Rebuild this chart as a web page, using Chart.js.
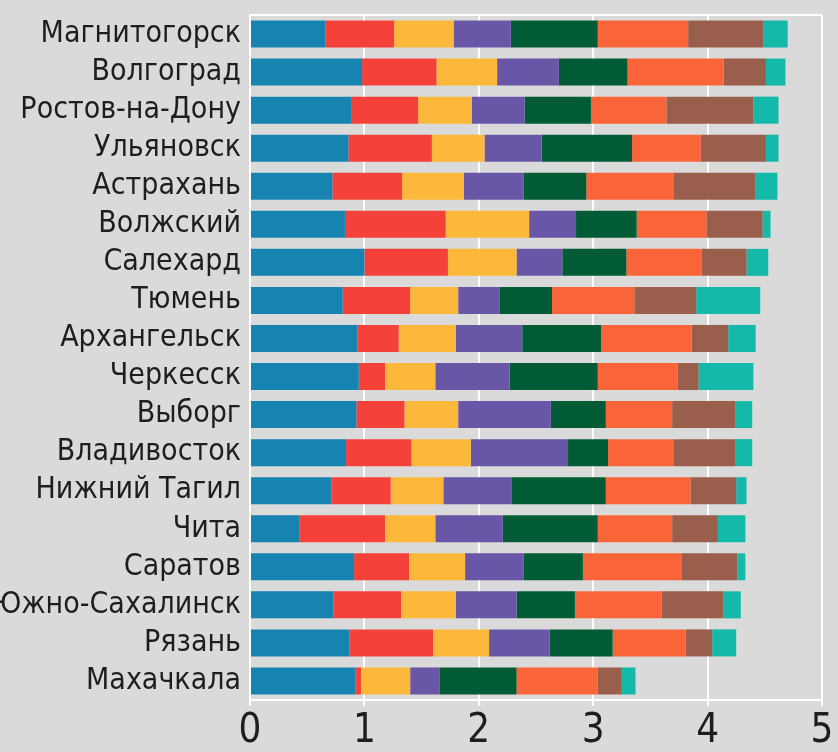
<!DOCTYPE html>
<html>
<head>
<meta charset="utf-8">
<script src="https://cdn.jsdelivr.net/npm/chart.js@4"></script>
<style>
  html, body { margin: 0; padding: 0; background: #dadada; }
  #wrap { width: 838px; height: 752px; }
</style>
</head>
<body>
<div id="wrap"><canvas id="chart"></canvas></div>
<script>
const cities = ['Магнитогорск', 'Волгоград', 'Ростов-на-Дону', 'Ульяновск', 'Астрахань', 'Волжский',
    'Салехард', 'Тюмень', 'Архангельск', 'Черкесск', 'Выборг', 'Владивосток', 'Нижний Тагил',
    'Чита', 'Саратов', 'Южно-Сахалинск', 'Рязань', 'Махачкала'];

const blue   = [0.66, 0.98, 0.89, 0.86, 0.72, 0.83, 1.00, 0.81, 0.94, 0.95, 0.93, 0.84, 0.71, 0.43, 0.91, 0.73, 0.87, 0.92];
const red    = [0.60, 0.65, 0.58, 0.73, 0.61, 0.88, 0.73, 0.59, 0.36, 0.23, 0.42, 0.57, 0.52, 0.75, 0.48, 0.59, 0.73, 0.05];
const yellow = [0.52, 0.53, 0.47, 0.46, 0.54, 0.73, 0.60, 0.42, 0.50, 0.44, 0.47, 0.52, 0.46, 0.44, 0.49, 0.48, 0.49, 0.43];
const purple = [0.50, 0.54, 0.46, 0.50, 0.52, 0.41, 0.40, 0.36, 0.58, 0.65, 0.81, 0.85, 0.60, 0.59, 0.51, 0.53, 0.53, 0.26];
const green  = [0.76, 0.60, 0.58, 0.79, 0.55, 0.53, 0.56, 0.46, 0.69, 0.77, 0.48, 0.35, 0.82, 0.83, 0.52, 0.51, 0.55, 0.67];
const orange = [0.79, 0.84, 0.66, 0.60, 0.76, 0.61, 0.66, 0.72, 0.79, 0.70, 0.58, 0.57, 0.74, 0.65, 0.86, 0.76, 0.64, 0.71];
const brown  = [0.66, 0.37, 0.76, 0.57, 0.72, 0.49, 0.39, 0.54, 0.32, 0.18, 0.55, 0.54, 0.40, 0.40, 0.49, 0.54, 0.23, 0.21];
const teal   = [0.21, 0.17, 0.22, 0.11, 0.19, 0.07, 0.19, 0.56, 0.24, 0.48, 0.15, 0.15, 0.09, 0.24, 0.07, 0.15, 0.21, 0.12];

const xTicks = [0, 1, 2, 3, 4, 5];

const series = [
    [blue,   '#1783b1'],
    [red,    '#f4423a'],
    [yellow, '#fbb83b'],
    [purple, '#6a56a6'],
    [green,  '#015c36'],
    [orange, '#fa6439'],
    [brown,  '#9a5f4c'],
    [teal,   '#15b9a9']
];

const font = "'Liberation Sans Narrow', 'DejaVu Sans Condensed', 'Roboto', sans-serif";

// white line along the top of the plot area
const topLine = {
    id: 'topLine',
    beforeDatasetsDraw(chart) {
        const a = chart.chartArea, c = chart.ctx;
        c.save();
        c.strokeStyle = '#ffffff';
        c.lineWidth = 2;
        c.beginPath();
        c.moveTo(a.left, a.top);
        c.lineTo(a.right, a.top);
        c.stroke();
        c.restore();
    }
};

new Chart(document.getElementById('chart'), {
    type: 'bar',
    data: {
        labels: cities,
        datasets: series.map(([d, col]) => ({
            data: d,
            backgroundColor: col,
            borderWidth: 0,
            barPercentage: 0.71,
            categoryPercentage: 1
        }))
    },
    options: {
        indexAxis: 'y',
        responsive: true,
        maintainAspectRatio: false,
        animation: false,
        layout: { padding: { top: 15, right: 16, left: 0, bottom: 0 } },
        plugins: { legend: { display: false }, tooltip: { enabled: false } },
        scales: {
            x: {
                stacked: true,
                min: 0,
                max: 5,
                afterBuildTicks: s => { s.ticks = xTicks.map(v => ({ value: v })); },
                afterFit: s => { s.height = 52; s.paddingLeft = 0; s.paddingRight = 0; },
                grid: { color: '#ffffff', lineWidth: 2, tickLength: 6 },
                border: { color: '#ffffff', width: 2 },
                ticks: { color: '#1e1e1e', font: { family: font, size: 40 }, padding: 2 }
            },
            y: {
                stacked: true,
                afterFit: s => { s.width = 250; s.paddingTop = 0; s.paddingBottom = 0; },
                grid: { display: false },
                border: { color: '#ffffff', width: 2 },
                ticks: { color: '#1e1e1e', font: { family: font, size: 30 }, padding: 1, autoSkip: false }
            }
        }
    },
    plugins: [topLine]
});
</script>
</body>
</html>
